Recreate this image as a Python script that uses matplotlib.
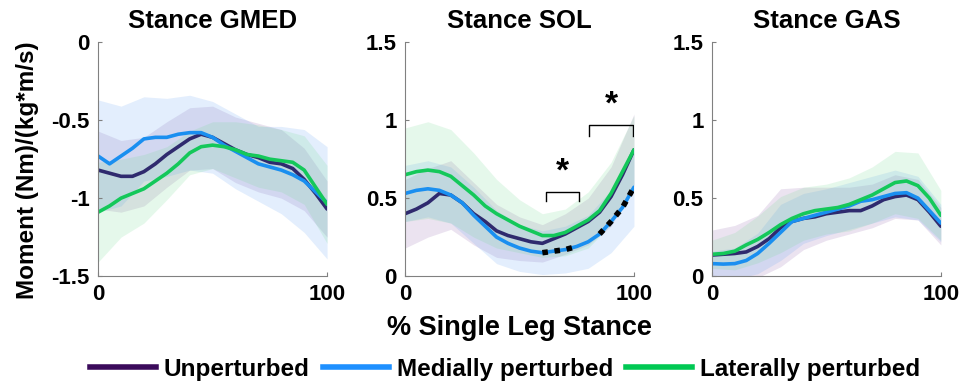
import numpy as np
import matplotlib
matplotlib.use('Agg')
import matplotlib.pyplot as plt
from matplotlib.lines import Line2D

plt.rcParams['font.family'] = ['Liberation Sans', 'DejaVu Sans']
plt.rcParams['font.weight'] = 'bold'

# eje x: % de apoyo monopodal
pct = np.arange(0, 101, 5)
pct_sd = np.arange(0, 101, 10)

grupos = ['Unperturbed', 'Medially perturbed', 'Laterally perturbed']
titulos = ['Stance GMED', 'Stance SOL', 'Stance GAS']

# GMED (medias cada 5 %, desvios cada 10 %)
gmed_unp = [-0.82, -0.84, -0.86, -0.86, -0.83, -0.78, -0.72, -0.67, -0.62, -0.59, -0.61,
            -0.65, -0.69, -0.72, -0.74, -0.77, -0.78, -0.81, -0.88, -0.97, -1.07]
gmed_med = [-0.73, -0.78, -0.73, -0.68, -0.62, -0.61, -0.61, -0.59, -0.58, -0.58, -0.61,
            -0.66, -0.70, -0.74, -0.78, -0.80, -0.82, -0.85, -0.89, -0.96, -1.03]
gmed_lat = [-1.09, -1.05, -1.00, -0.97, -0.94, -0.89, -0.84, -0.78, -0.71, -0.67, -0.66,
            -0.67, -0.69, -0.72, -0.73, -0.75, -0.76, -0.77, -0.82, -0.93, -1.04]
gmed_unp_sd = [0.25, 0.23, 0.22, 0.21, 0.20, 0.20, 0.21, 0.22, 0.22, 0.20, 0.18]
gmed_med_sd = [0.36, 0.32, 0.27, 0.25, 0.24, 0.23, 0.24, 0.24, 0.28, 0.33, 0.36]
gmed_lat_sd = [0.32, 0.25, 0.22, 0.17, 0.14, 0.15, 0.18, 0.20, 0.20, 0.22, 0.25]

# SOL
sol_unp = [0.40, 0.43, 0.47, 0.53, 0.52, 0.47, 0.40, 0.35, 0.29, 0.26, 0.24,
           0.22, 0.21, 0.24, 0.27, 0.31, 0.35, 0.41, 0.51, 0.65, 0.81]
sol_med = [0.53, 0.55, 0.56, 0.55, 0.52, 0.47, 0.39, 0.32, 0.25, 0.21, 0.18,
           0.16, 0.15, 0.16, 0.17, 0.19, 0.22, 0.27, 0.35, 0.44, 0.57]
sol_lat = [0.65, 0.67, 0.68, 0.67, 0.64, 0.58, 0.52, 0.45, 0.40, 0.36, 0.32,
           0.29, 0.26, 0.26, 0.28, 0.32, 0.36, 0.42, 0.53, 0.67, 0.81]
sol_unp_sd = [0.22, 0.22, 0.22, 0.20, 0.17, 0.14, 0.12, 0.13, 0.15, 0.19, 0.23]
sol_med_sd = [0.18, 0.18, 0.18, 0.18, 0.17, 0.15, 0.14, 0.15, 0.17, 0.20, 0.25]
sol_lat_sd = [0.30, 0.31, 0.30, 0.27, 0.22, 0.17, 0.14, 0.15, 0.18, 0.20, 0.22]

# GAS
gas_unp = [0.135, 0.14, 0.145, 0.155, 0.19, 0.24, 0.31, 0.35, 0.37, 0.38, 0.40,
           0.41, 0.42, 0.42, 0.45, 0.49, 0.51, 0.52, 0.49, 0.41, 0.32]
gas_med = [0.08, 0.077, 0.08, 0.10, 0.145, 0.21, 0.28, 0.35, 0.37, 0.39, 0.41,
           0.43, 0.45, 0.48, 0.49, 0.51, 0.53, 0.535, 0.50, 0.42, 0.34]
gas_lat = [0.14, 0.145, 0.16, 0.20, 0.235, 0.28, 0.33, 0.37, 0.40, 0.42, 0.43,
           0.44, 0.46, 0.49, 0.52, 0.56, 0.60, 0.61, 0.58, 0.50, 0.39]
gas_unp_sd = [0.16, 0.18, 0.20, 0.25, 0.20, 0.17, 0.15, 0.14, 0.14, 0.13, 0.12]
gas_med_sd = [0.08, 0.10, 0.13, 0.18, 0.16, 0.15, 0.15, 0.15, 0.15, 0.14, 0.12]
gas_lat_sd = [0.09, 0.12, 0.15, 0.18, 0.17, 0.16, 0.17, 0.18, 0.20, 0.21, 0.16]

# tramos significativos en SOL (linea punteada) y corchetes
sig_tramos = [(60, 75), (85, 100)]
corchetes = [(61.5, 76, 0.48, 0.54, 0.67), (80.5, 99.7, 0.90, 0.97, 1.10)]

medias = [[gmed_unp, gmed_med, gmed_lat], [sol_unp, sol_med, sol_lat], [gas_unp, gas_med, gas_lat]]
desvios = [[gmed_unp_sd, gmed_med_sd, gmed_lat_sd], [sol_unp_sd, sol_med_sd, sol_lat_sd],
           [gas_unp_sd, gas_med_sd, gas_lat_sd]]
limites = [(-1.5, 0), (0, 1.5), (0, 1.5)]
ticks_y = [([-1.5, -1, -0.5, 0], ['-1.5', '-1', '-0.5', '0']),
           ([0, 0.5, 1, 1.5], ['0', '0.5', '1', '1.5']),
           ([0, 0.5, 1, 1.5], ['0', '0.5', '1', '1.5'])]

colores_linea = ['#2f2a6e', '#1a8ff0', '#14c85a']
colores_banda = ['#8a5aa8', '#5a9cf5', '#6ad88a']
colores_leyenda = ['#3b0b5b', '#1e90ff', '#00c853']

fig = plt.figure(figsize=(9.62, 3.84), dpi=100)
izq = [0.102, 0.421, 0.740]
ejes = []
for i in range(3):
    ax = fig.add_axes([izq[i], 0.281, 0.238, 0.609])
    ejes.append(ax)
    for j in range(3):
        m = np.array(medias[i][j])
        sd = np.array(desvios[i][j])
        ax.fill_between(pct_sd, m[::2] - sd, m[::2] + sd, color=colores_banda[j],
                        alpha=0.17, linewidth=0)
    for j in range(3):
        ax.plot(pct, medias[i][j], color=colores_linea[j], linewidth=2.6,
                solid_joinstyle='round', solid_capstyle='round')
    ax.set_xlim(0, 100)
    ax.set_ylim(*limites[i])
    ax.set_xticks([0, 100])
    ax.set_yticks(ticks_y[i][0])
    ax.set_yticklabels(ticks_y[i][1])
    ax.tick_params(direction='in', labelsize=16, length=3, color='#808080', width=0.8, pad=6)
    for s in ['top', 'right']:
        ax.spines[s].set_visible(False)
    for s in ['left', 'bottom']:
        ax.spines[s].set_color('#808080')
        ax.spines[s].set_linewidth(0.8)
    ax.set_title(titulos[i], fontsize=18.5, fontweight='bold', pad=10)

# marcas de significancia en SOL
ax = ejes[1]
med = np.array(sol_med)
for a, b in sig_tramos:
    sel = (pct >= a) & (pct <= b)
    ax.plot(pct[sel], med[sel], color='black', linestyle=(0, (1, 1.2)), linewidth=4)
for x0, x1, y0, y1, ys in corchetes:
    ax.plot([x0, x0, x1, x1], [y0, y1, y1, y0], color='black', linewidth=1)
    ax.text((x0 + x1) / 2, ys, '*', ha='center', va='center', fontsize=24, fontweight='bold')

ejes[0].set_ylabel('Moment (Nm)/(kg*m/s)', fontsize=17.5, fontweight='bold')
ejes[0].yaxis.set_label_coords(-0.26, 0.455)
fig.text(0.54, 0.145, '% Single Leg Stance', ha='center', va='center', fontsize=19.5, fontweight='bold')

manijas = [Line2D([0], [0], color=c, linewidth=4) for c in colores_leyenda]
fig.legend(manijas, grupos, loc='center', bbox_to_anchor=(0.525, 0.038), ncol=3, frameon=False,
           handlelength=2.7, handletextpad=0.33, columnspacing=0.55,
           prop={'weight': 'bold', 'size': 17.5})

fig.savefig('out.png', dpi=100)
